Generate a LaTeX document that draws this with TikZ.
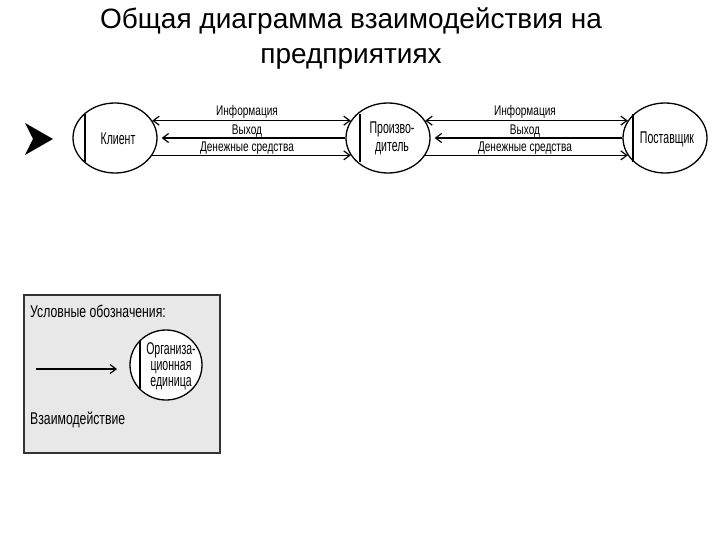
\documentclass[tikz,border=0pt]{standalone}
\usepackage{fontspec}
\setmainfont{Liberation Sans}
\newfontfamily\narrowfnt[FakeStretch=0.72]{Liberation Sans}
\newfontfamily\condfnt[FakeStretch=0.62]{Liberation Sans}
\usetikzlibrary{arrows.meta,calc,shapes.geometric}
\tikzset{
  unit/.style={draw=black, line width=1.3pt, ellipse, minimum width=84pt, minimum height=70pt, inner sep=0pt},
  utext/.style={font=\condfnt\fontsize{17}{18}\selectfont, align=center, inner sep=0pt},
  flow/.style={line width=1.2pt},
  tip/.style={-{Straight Barb[length=6pt,width=9pt,line width=1.2pt]}},
  both/.style={{Straight Barb[length=6pt,width=9pt,line width=1.2pt]}-{Straight Barb[length=6pt,width=9pt,line width=1.2pt]}},
  lbl/.style={font=\narrowfnt\fontsize{14}{14}\selectfont, inner sep=0pt},
  title/.style={font=\fontsize{28}{35}\selectfont, align=center}
}
\begin{document}
\begin{tikzpicture}[x=1pt,y=-1pt]
\useasboundingbox (0,0) rectangle (720,540);
\node[title] (t) at (351,39) {Общая диаграмма взаимодействия на\\предприятиях};

% pointer
\fill (25,123) -- (53,139) -- (25,155) -- (33,139) -- cycle;

\node[unit] (k) at (115,138) {};
\node[unit] (p) at (388,138) {};
\node[unit] (s) at (665,138) {};
\node[utext] (kt) at (118,139) {Клиент};
\node[utext] (pt) at (392,138) {Произво-\\дитель};
\node[utext] (st) at (667,139) {Поставщик};

\foreach \n/\dx in {k/-30, p/-28, s/-32} {
  \draw[line width=1.3pt] ($(\n.center)+(\dx,-24)$) -- ($(\n.center)+(\dx,24)$);
}

% arrows k <-> p
\draw[flow, both] (k.25) -- (p.155);
\draw[flow, tip, shorten >=4pt] (p.west) -- (k.east);
\draw[flow, tip] (k.-25) -- (p.205);
\node[lbl] (i1) at (247,112) {Информация};
\node[lbl] (v1) at (247,131) {Выход};
\node[lbl] (d1) at (247,148) {Денежные средства};

% arrows p <-> s
\draw[flow, both] (p.25) -- (s.155);
\draw[flow, tip, shorten >=4pt] (s.west) -- (p.east);
\draw[flow, tip] (p.-25) -- (s.205);
\node[lbl] (i2) at (525,112) {Информация};
\node[lbl] (v2) at (525,131) {Выход};
\node[lbl] (d2) at (525,148) {Денежные средства};

% legend
\node[draw=black!80, line width=2pt, fill=black!9, minimum width=196pt, minimum height=158pt, inner sep=0pt] (box) at (122,374) {};
\node[lbl, font=\narrowfnt\fontsize{17}{18}\selectfont, anchor=west] (lt) at (30,311) {Условные обозначения:};
\node[unit, fill=white, minimum width=72pt, minimum height=70pt] (org) at (166,365) {};
\node[utext, font=\condfnt\fontsize{17}{16}\selectfont] (orgt) at (171,366) {Организа-\\ционная\\единица};
\draw[line width=1.3pt] ($(org.center)+(-26,-24)$) -- ($(org.center)+(-26,24)$);
\coordinate (a0) at (36,369);
\coordinate (a1) at (117,369);
\draw[flow, tip] (a0) -- (a1);
\node[lbl, font=\narrowfnt\fontsize{17}{18}\selectfont, anchor=west] (vz) at (30,420) {Взаимодействие};
\end{tikzpicture}
\end{document}
